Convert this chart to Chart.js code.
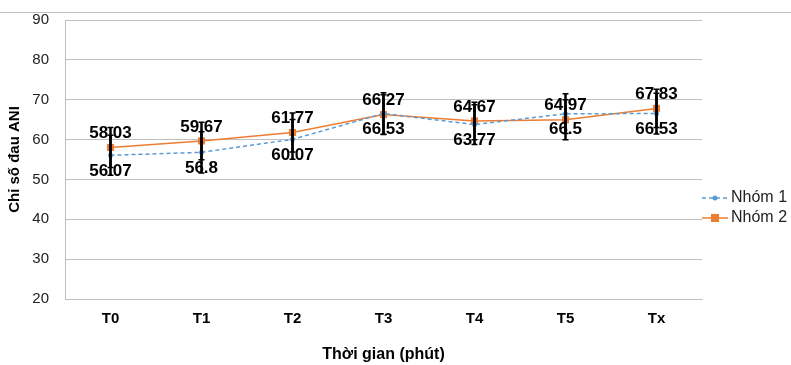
<!DOCTYPE html>
<html>
<head>
<meta charset="utf-8">
<script src="https://cdn.jsdelivr.net/npm/chart.js@4.4.0/dist/chart.umd.min.js"></script>
<style>
  html, body { margin: 0; padding: 0; background: #fff; }
  #wrap { width: 791px; height: 365px; }
</style>
</head>
<body>
<div id="wrap"><canvas id="aniChart" width="791" height="365"></canvas></div>
<script>
const categories = ['T0', 'T1', 'T2', 'T3', 'T4', 'T5', 'Tx'];
const nhom1 = [56.07, 56.8, 60.07, 66.53, 63.77, 66.5, 66.53];
const nhom2 = [58.03, 59.67, 61.77, 66.27, 64.67, 64.97, 67.83];
// error bar half-widths
const sd1 = [5.0, 5.2, 5.0, 5.2, 5.0, 5.0, 5.1];
const sd2 = [5.0, 4.7, 4.9, 5.0, 4.7, 5.0, 4.8];
const yMin = 20, yMax = 90, yStep = 10;

const blue = '#5b9bd5';
const orange = '#ed7d31';
const gridColor = '#bfbfbf';
const fontFamily = '"Liberation Sans", Arial, sans-serif';

// labels + error bars, then legend
const extras = {
    id: 'extras',
    beforeDraw(chart) {
        const ctx = chart.ctx;
        ctx.save();
        ctx.strokeStyle = gridColor;
        ctx.lineWidth = 1;
        ctx.beginPath();
        ctx.moveTo(0, 12.5);
        ctx.lineTo(chart.width, 12.5);
        ctx.stroke();
        ctx.restore();
    },
    afterDatasetsDraw(chart) {
        const ctx = chart.ctx;
        const yScale = chart.scales.y;
        const sds = [sd1, sd2];
        ctx.save();
        // data labels: Nhóm 2 above, Nhóm 1 below
        ctx.font = 'bold 17px ' + fontFamily;
        ctx.fillStyle = '#000';
        ctx.textAlign = 'center';
        ctx.textBaseline = 'middle';
        chart.data.datasets.forEach((ds, i) => {
            const meta = chart.getDatasetMeta(i);
            meta.data.forEach((pt, j) => {
                const dy = i === 1 ? -14 : 16;
                ctx.fillText(String(ds.data[j]), pt.x, pt.y + dy);
            });
        });
        // error bars
        ctx.strokeStyle = '#000';
        chart.data.datasets.forEach((ds, i) => {
            const meta = chart.getDatasetMeta(i);
            meta.data.forEach((pt, j) => {
                const top = yScale.getPixelForValue(ds.data[j] + sds[i][j]);
                const bot = yScale.getPixelForValue(ds.data[j] - sds[i][j]);
                ctx.lineWidth = 2.5;
                ctx.beginPath();
                ctx.moveTo(pt.x, top);
                ctx.lineTo(pt.x, bot);
                ctx.stroke();
                ctx.lineWidth = 1.5;
                ctx.beginPath();
                ctx.moveTo(pt.x - 3, top);
                ctx.lineTo(pt.x + 3, top);
                ctx.moveTo(pt.x - 3, bot);
                ctx.lineTo(pt.x + 3, bot);
                ctx.stroke();
            });
        });
        ctx.restore();
    },
    afterDraw(chart) {
        const ctx = chart.ctx;
        const x0 = chart.chartArea.right;
        const items = [
            { label: 'Nhóm 1', color: blue, dash: [4, 3], square: false },
            { label: 'Nhóm 2', color: orange, dash: [], square: true }
        ];
        ctx.save();
        ctx.font = '16px ' + fontFamily;
        ctx.textBaseline = 'middle';
        ctx.textAlign = 'left';
        items.forEach((it, k) => {
            const y = 198 + k * 20;
            ctx.strokeStyle = it.color;
            ctx.lineWidth = 1.5;
            ctx.setLineDash(it.dash);
            ctx.beginPath();
            ctx.moveTo(x0, y);
            ctx.lineTo(x0 + 26, y);
            ctx.stroke();
            ctx.setLineDash([]);
            ctx.fillStyle = it.color;
            if (it.square) {
                ctx.fillRect(x0 + 9, y - 4, 8, 8);
            } else {
                ctx.beginPath();
                ctx.arc(x0 + 13, y, 2.5, 0, Math.PI * 2);
                ctx.fill();
            }
            ctx.fillStyle = '#222';
            ctx.fillText(it.label, x0 + 29, y);
        });
        ctx.restore();
    }
};

new Chart(document.getElementById('aniChart').getContext('2d'), {
    type: 'line',
    data: {
        labels: categories,
        datasets: [
            {
                label: 'Nhóm 1',
                data: nhom1,
                borderColor: blue,
                backgroundColor: blue,
                borderWidth: 1.5,
                borderDash: [4, 3],
                pointStyle: 'circle',
                pointRadius: 2.5,
                pointBorderWidth: 0,
                tension: 0
            },
            {
                label: 'Nhóm 2',
                data: nhom2,
                borderColor: orange,
                backgroundColor: orange,
                borderWidth: 1.5,
                pointStyle: 'rect',
                pointRadius: 5,
                pointBorderWidth: 0,
                tension: 0
            }
        ]
    },
    options: {
        responsive: false,
        animation: false,
        layout: { padding: { top: 8, right: 89, bottom: 0, left: 0 } },
        plugins: {
            legend: { display: false },
            tooltip: { enabled: false }
        },
        scales: {
            x: {
                offset: true,
                grid: { display: false, drawTicks: false },
                border: { display: true, color: gridColor, width: 1 },
                ticks: {
                    color: '#000',
                    font: { family: fontFamily, size: 15, weight: 'bold' },
                    padding: 11
                },
                title: {
                    display: true,
                    text: 'Thời gian (phút)',
                    color: '#000',
                    font: { family: fontFamily, size: 16, weight: 'bold' },
                    padding: { top: 10, bottom: 1 }
                },
                afterFit(scale) { scale.height = 66; }
            },
            y: {
                min: yMin,
                max: yMax,
                grid: { color: gridColor, drawTicks: false },
                border: { display: true, color: gridColor, width: 1 },
                ticks: {
                    stepSize: yStep,
                    color: '#222',
                    // small lineHeight keeps the plot top at 20px
                    font: { family: fontFamily, size: 15, lineHeight: 0.54 },
                    padding: 16
                },
                title: {
                    display: true,
                    text: 'Chỉ số đau ANI',
                    color: '#000',
                    font: { family: fontFamily, size: 15, weight: 'bold' },
                    padding: { top: 6, bottom: 0 }
                },
                afterFit(scale) { scale.width = 65; }
            }
        }
    },
    plugins: [extras]
});
</script>
</body>
</html>
